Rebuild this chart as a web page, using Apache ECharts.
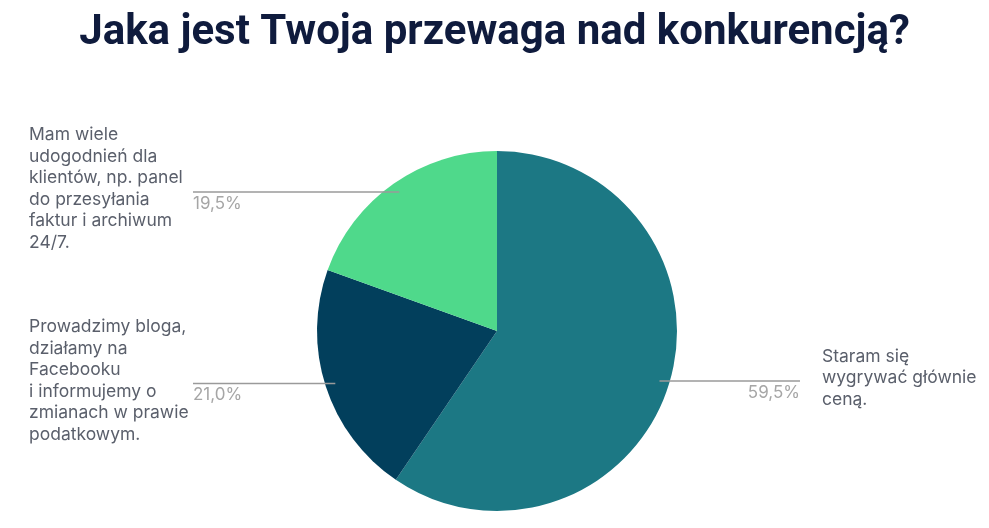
<!DOCTYPE html>
<html>
<head>
<meta charset="utf-8">
<script src="https://cdn.jsdelivr.net/npm/echarts@6/dist/echarts.min.js"></script>
<style>
  html, body { margin: 0; padding: 0; background: #fff; }
  #main { width: 989px; height: 528px; }
</style>
</head>
<body>
<div id="main"></div>
<script>
// dane z wykresu
var categories = [
  'Staram się\nwygrywać głównie\nceną.',
  'Prowadzimy bloga,\ndziałamy na\nFacebooku\ni informujemy o\nzmianach w prawie\npodatkowym.',
  'Mam wiele\nudogodnień dla\nklientów, np. panel\ndo przesyłania\nfaktur i archiwum\n24/7.'
];
var values = [59.5, 21.0, 19.5];
var colors = ['#1c7884', '#023f5c', '#4fd98b'];

var myChart = echarts.init(document.getElementById('main'));

var center = [497, 331];

function pieData(withColor) {
  return values.map(function (v, i) {
    return {
      name: categories[i],
      value: v,
      itemStyle: { color: withColor ? colors[i] : 'rgba(0,0,0,0)' }
    };
  });
}

function isRight(p) {
  return p[0] > center[0];
}

var option = {
  title: {
    text: 'Jaka jest Twoja przewaga nad konkurencją?',
    left: 'center',
    top: 7,
    textStyle: {
      fontFamily: 'Roboto',
      fontSize: 42,
      fontWeight: 'bold',
      color: '#0f1b3d'
    }
  },
  series: [
    {
      // właściwy wykres
      type: 'pie',
      center: center,
      radius: 180,
      startAngle: 90,
      silent: true,
      label: { show: false },
      labelLine: { show: false },
      data: pieData(true)
    },
    {
      // procenty z linią
      type: 'pie',
      center: center,
      radius: 170,
      startAngle: 90,
      silent: true,
      z: 3,
      label: {
        show: true,
        position: 'outside',
        fontFamily: 'Inter',
        fontSize: 17,
        color: '#a6a6a6',
        formatter: function (p) {
          return p.value.toFixed(1).replace('.', ',') + '%';
        }
      },
      labelLine: {
        show: true,
        length: 0,
        length2: 10,
        lineStyle: { color: '#9a9a9a', width: 1.5 }
      },
      labelLayout: function (params) {
        var p0 = params.labelLinePoints[0];
        var right = isRight(p0);
        var endX = right ? 800 : 193;
        return {
          x: endX,
          y: p0[1] + 3,
          align: right ? 'right' : 'left',
          verticalAlign: 'top',
          labelLinePoints: [p0, [(p0[0] + endX) / 2, p0[1]], [endX, p0[1]]]
        };
      },
      data: pieData(false)
    },
    {
      // opisy kategorii
      type: 'pie',
      center: center,
      radius: 170,
      startAngle: 90,
      silent: true,
      z: 3,
      label: {
        show: true,
        position: 'outside',
        fontFamily: 'Inter',
        fontSize: 17.5,
        lineHeight: 21.5,
        color: '#5a5f6b',
        formatter: '{b}'
      },
      labelLine: {
        show: true,
        length: 0,
        length2: 0,
        lineStyle: { opacity: 0 }
      },
      labelLayout: function (params) {
        var p0 = params.labelLinePoints[0];
        var right = isRight(p0);
        return {
          x: right ? 822 : 29,
          y: p0[1] - 3,
          align: 'left',
          verticalAlign: 'middle'
        };
      },
      data: pieData(false)
    }
  ]
};

myChart.setOption(option);
</script>
</body>
</html>
